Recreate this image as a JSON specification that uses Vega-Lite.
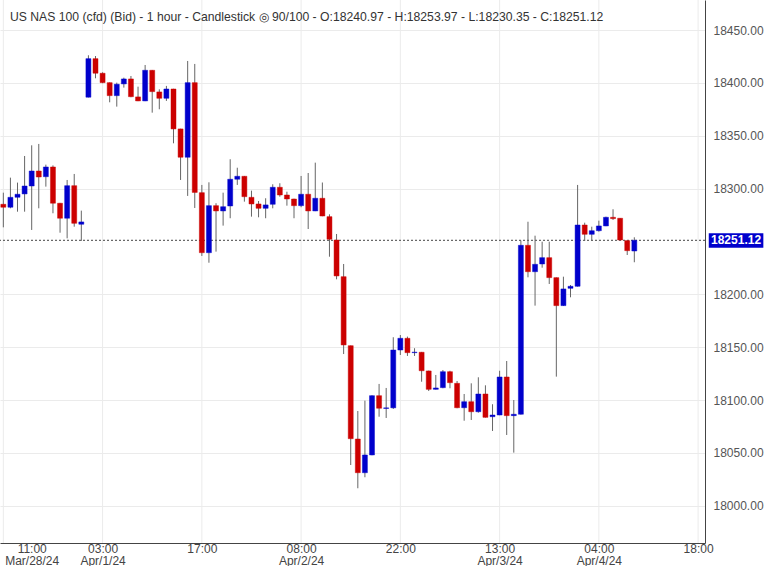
{
  "$schema": "https://vega.github.io/schema/vega-lite/v6.json",
  "autosize": {"type": "none"},
  "padding": {"left": 0, "top": 0, "right": 63, "bottom": 23},
  "width": 705,
  "height": 543,
  "background": "white",
  "title": {
    "text": "US NAS 100 (cfd) (Bid) - 1 hour - Candlestick  ◎  90/100 - O:18240.97 - H:18253.97 - L:18230.35 - C:18251.12",
    "anchor": "start",
    "frame": "group",
    "orient": "top",
    "baseline": "alphabetic",
    "offset": -34,
    "dx": 10,
    "font": "Liberation Sans",
    "fontSize": 12.2,
    "fontWeight": "normal",
    "color": "#333333"
  },
  "config": {
    "font": "Liberation Sans",
    "view": {"stroke": null}
  },
  "datasets": {
    "candles": [
      {"i":0,"o":18285.2,"h":18296.2,"l":18263.4,"c":18282.4},
      {"i":1,"o":18282.4,"h":18310.4,"l":18281.4,"c":18291.8},
      {"i":2,"o":18291.8,"h":18305.7,"l":18278.2,"c":18294.7},
      {"i":3,"o":18295.0,"h":18330.9,"l":18278.2,"c":18302.5},
      {"i":4,"o":18302.5,"h":18341.0,"l":18260.9,"c":18316.7},
      {"i":5,"o":18316.7,"h":18342.3,"l":18281.4,"c":18311.0},
      {"i":6,"o":18311.3,"h":18322.7,"l":18301.9,"c":18320.5},
      {"i":7,"o":18320.5,"h":18322.0,"l":18276.7,"c":18286.2},
      {"i":8,"o":18286.2,"h":18286.5,"l":18258.3,"c":18272.0},
      {"i":9,"o":18272.0,"h":18308.2,"l":18253.0,"c":18302.8},
      {"i":10,"o":18302.8,"h":18313.9,"l":18264.0,"c":18267.2},
      {"i":11,"o":18266.3,"h":18279.2,"l":18250.5,"c":18268.5},
      {"i":12,"o":18386.5,"h":18426.2,"l":18386.3,"c":18423.0},
      {"i":13,"o":18423.0,"h":18425.5,"l":18404.4,"c":18409.2},
      {"i":14,"o":18409.2,"h":18410.1,"l":18399.7,"c":18400.3},
      {"i":15,"o":18400.3,"h":18400.5,"l":18381.7,"c":18388.0},
      {"i":16,"o":18388.0,"h":18400.3,"l":18377.6,"c":18398.8},
      {"i":17,"o":18399.1,"h":18405.0,"l":18395.6,"c":18403.8},
      {"i":18,"o":18403.8,"h":18406.6,"l":18386.5,"c":18387.0},
      {"i":19,"o":18386.8,"h":18396.5,"l":18382.8,"c":18383.0},
      {"i":20,"o":18383.0,"h":18417.0,"l":18382.8,"c":18412.0},
      {"i":21,"o":18412.0,"h":18412.3,"l":18371.9,"c":18391.8},
      {"i":22,"o":18391.5,"h":18394.0,"l":18375.1,"c":18385.5},
      {"i":23,"o":18385.5,"h":18397.2,"l":18383.0,"c":18394.3},
      {"i":24,"o":18394.3,"h":18394.5,"l":18342.9,"c":18356.5},
      {"i":25,"o":18356.5,"h":18356.7,"l":18308.2,"c":18329.7},
      {"i":26,"o":18329.7,"h":18420.8,"l":18293.1,"c":18400.3},
      {"i":27,"o":18400.3,"h":18418.0,"l":18281.7,"c":18296.4},
      {"i":28,"o":18296.2,"h":18303.5,"l":18236.3,"c":18239.4},
      {"i":29,"o":18239.4,"h":18306.0,"l":18229.9,"c":18283.9},
      {"i":30,"o":18283.9,"h":18286.2,"l":18240.4,"c":18278.9},
      {"i":31,"o":18278.9,"h":18296.2,"l":18265.0,"c":18282.9},
      {"i":32,"o":18283.6,"h":18327.8,"l":18272.0,"c":18308.9},
      {"i":33,"o":18308.9,"h":18319.8,"l":18303.5,"c":18311.7},
      {"i":34,"o":18311.7,"h":18312.0,"l":18287.7,"c":18292.4},
      {"i":35,"o":18291.8,"h":18298.1,"l":18273.5,"c":18285.5},
      {"i":36,"o":18285.5,"h":18288.3,"l":18272.9,"c":18281.4},
      {"i":37,"o":18281.4,"h":18290.9,"l":18272.0,"c":18284.6},
      {"i":38,"o":18285.2,"h":18304.1,"l":18281.4,"c":18301.3},
      {"i":39,"o":18301.3,"h":18305.1,"l":18292.4,"c":18294.0},
      {"i":40,"o":18294.0,"h":18297.1,"l":18283.9,"c":18290.2},
      {"i":41,"o":18290.2,"h":18290.5,"l":18272.0,"c":18283.9},
      {"i":42,"o":18283.9,"h":18312.0,"l":18282.4,"c":18294.7},
      {"i":43,"o":18294.7,"h":18314.8,"l":18261.8,"c":18278.9},
      {"i":44,"o":18278.9,"h":18324.6,"l":18278.7,"c":18290.9},
      {"i":45,"o":18290.9,"h":18305.8,"l":18273.9,"c":18274.1},
      {"i":46,"o":18273.5,"h":18275.7,"l":18235.6,"c":18252.1},
      {"i":47,"o":18251.4,"h":18257.1,"l":18214.2,"c":18217.4},
      {"i":48,"o":18216.7,"h":18228.7,"l":18143.5,"c":18152.1},
      {"i":49,"o":18151.4,"h":18151.6,"l":18038.5,"c":18063.4},
      {"i":50,"o":18063.1,"h":18089.6,"l":18016.5,"c":18031.2},
      {"i":51,"o":18031.2,"h":18099.4,"l":18026.9,"c":18048.0},
      {"i":52,"o":18048.0,"h":18104.5,"l":18047.7,"c":18104.1},
      {"i":53,"o":18104.1,"h":18115.2,"l":18084.2,"c":18092.2},
      {"i":54,"o":18092.0,"h":18111.4,"l":18083.0,"c":18092.6},
      {"i":55,"o":18092.6,"h":18159.4,"l":18091.5,"c":18147.3},
      {"i":56,"o":18147.3,"h":18161.5,"l":18142.6,"c":18158.4},
      {"i":57,"o":18158.4,"h":18160.0,"l":18141.7,"c":18144.8},
      {"i":58,"o":18144.8,"h":18149.0,"l":18141.7,"c":18145.3},
      {"i":59,"o":18145.2,"h":18145.5,"l":18117.3,"c":18127.7},
      {"i":60,"o":18127.5,"h":18127.8,"l":18108.5,"c":18110.1},
      {"i":61,"o":18110.1,"h":18123.7,"l":18109.9,"c":18111.4},
      {"i":62,"o":18111.7,"h":18128.4,"l":18111.1,"c":18126.8},
      {"i":63,"o":18126.8,"h":18127.7,"l":18111.1,"c":18116.4},
      {"i":64,"o":18115.8,"h":18118.0,"l":18092.2,"c":18092.7},
      {"i":65,"o":18092.7,"h":18105.7,"l":18080.4,"c":18098.4},
      {"i":66,"o":18098.4,"h":18115.8,"l":18081.1,"c":18088.9},
      {"i":67,"o":18088.9,"h":18121.5,"l":18088.0,"c":18105.7},
      {"i":68,"o":18105.7,"h":18113.9,"l":18083.4,"c":18083.6},
      {"i":69,"o":18084.2,"h":18096.0,"l":18070.7,"c":18085.8},
      {"i":70,"o":18085.8,"h":18127.7,"l":18085.6,"c":18121.8},
      {"i":71,"o":18121.8,"h":18136.9,"l":18066.9,"c":18085.2},
      {"i":72,"o":18085.2,"h":18100.0,"l":18050.2,"c":18086.5},
      {"i":73,"o":18086.5,"h":18250.8,"l":18086.2,"c":18246.4},
      {"i":74,"o":18246.4,"h":18268.7,"l":18216.1,"c":18221.4},
      {"i":75,"o":18221.4,"h":18255.5,"l":18189.3,"c":18228.4},
      {"i":76,"o":18228.7,"h":18249.8,"l":18225.2,"c":18234.7},
      {"i":77,"o":18234.7,"h":18249.8,"l":18209.8,"c":18215.8},
      {"i":78,"o":18215.8,"h":18216.0,"l":18122.1,"c":18189.3},
      {"i":79,"o":18189.3,"h":18216.7,"l":18189.0,"c":18205.1},
      {"i":80,"o":18205.7,"h":18208.8,"l":18197.2,"c":18207.6},
      {"i":81,"o":18207.6,"h":18303.5,"l":18207.3,"c":18265.6},
      {"i":82,"o":18265.6,"h":18267.8,"l":18250.5,"c":18256.8},
      {"i":83,"o":18256.8,"h":18264.0,"l":18250.5,"c":18260.2},
      {"i":84,"o":18260.2,"h":18269.7,"l":18259.3,"c":18264.7},
      {"i":85,"o":18264.7,"h":18273.5,"l":18264.5,"c":18272.9},
      {"i":86,"o":18272.9,"h":18280.5,"l":18270.4,"c":18271.6},
      {"i":87,"o":18272.0,"h":18272.2,"l":18250.8,"c":18251.4},
      {"i":88,"o":18250.8,"h":18251.0,"l":18237.2,"c":18241.3},
      {"i":89,"o":18240.97,"h":18253.97,"l":18230.35,"c":18251.12}
    ],
    "grid": [{"g":0},{"g":14},{"g":28},{"g":42},{"g":56},{"g":70},{"g":84},{"g":98}],
    "last": [{"p":18251.12,"label":"18251.12","x0":99.5,"x1":107.2,"xm":103.35,"top":18257.7,"bot":18244.0}]
  },
  "layer": [
    {
      "data": {"name": "grid"},
      "mark": {"type": "rule", "color": "#ebebeb", "strokeWidth": 1},
      "encoding": {
        "x": {
          "field": "g", "type": "quantitative", "title": null,
          "scale": {"domain": [-0.47, 98.97], "nice": false, "zero": false, "padding": 0},
          "axis": {
            "title": null,
            "orient": "bottom",
            "values": [4, 14, 28, 42, 56, 70, 84, 98],
            "labelExpr": "datum.value == 4 ? ['11:00', 'Mar/28/24'] : datum.value == 14 ? ['03:00', 'Apr/1/24'] : datum.value == 28 ? '17:00' : datum.value == 42 ? ['08:00', 'Apr/2/24'] : datum.value == 56 ? '22:00' : datum.value == 70 ? ['13:00', 'Apr/3/24'] : datum.value == 84 ? ['04:00', 'Apr/4/24'] : '18:00'",
            "grid": false,
            "ticks": false,
            "labelPadding": 0,
            "labelFont": "Liberation Sans",
            "labelFontSize": 12,
            "labelColor": "#444444",
            "labelLineHeight": 12,
            "labelOverlap": false,
            "labelFlush": false,
            "labelBound": false,
            "domainColor": "#444444"
          }
        }
      }
    },
    {
      "data": {"name": "last"},
      "mark": {"type": "rule", "color": "#444444", "strokeWidth": 1, "strokeDash": [2, 2]},
      "encoding": {
        "y": {
          "field": "p", "type": "quantitative", "title": null,
          "scale": {"domain": [17964.7, 18478.5], "nice": false, "zero": false, "padding": 0},
          "axis": {
            "title": null,
            "orient": "right",
            "values": [18000, 18050, 18100, 18150, 18200, 18300, 18350, 18400, 18450],
            "format": ".2f",
            "grid": true,
            "gridColor": "#ebebeb",
            "ticks": false,
            "labelPadding": 8,
            "labelFont": "Liberation Sans",
            "labelFontSize": 12,
            "labelColor": "#555555",
            "labelOverlap": false,
            "labelFlush": false,
            "labelBound": false,
            "domainColor": "#444444"
          }
        }
      }
    },
    {
      "data": {"name": "candles"},
      "mark": {"type": "rule", "color": "#666666", "strokeWidth": 1},
      "encoding": {
        "x": {"field": "i", "type": "quantitative", "title": null},
        "y": {"field": "l", "type": "quantitative", "title": null},
        "y2": {"field": "h"}
      }
    },
    {
      "data": {"name": "candles"},
      "mark": {"type": "bar", "size": 5, "strokeWidth": 1, "strokeOpacity": 0.45},
      "encoding": {
        "x": {"field": "i", "type": "quantitative", "title": null},
        "y": {"field": "o", "type": "quantitative", "title": null},
        "y2": {"field": "c"},
        "color": {"condition": {"test": "datum.c >= datum.o", "value": "#0000cc"}, "value": "#cc0000"},
        "stroke": {"condition": {"test": "datum.c >= datum.o", "value": "#0000cc"}, "value": "#cc0000"}
      }
    },
    {
      "data": {"name": "last"},
      "mark": {"type": "rect", "color": "#0000cc", "clip": false},
      "encoding": {
        "x": {"field": "x0", "type": "quantitative", "title": null},
        "x2": {"field": "x1"},
        "y": {"field": "top", "type": "quantitative", "title": null},
        "y2": {"field": "bot"}
      }
    },
    {
      "data": {"name": "last"},
      "mark": {"type": "text", "color": "white", "font": "Liberation Sans", "fontSize": 12, "fontWeight": "bold", "align": "center", "baseline": "middle", "clip": false},
      "encoding": {
        "x": {"field": "xm", "type": "quantitative", "title": null},
        "y": {"field": "p", "type": "quantitative", "title": null},
        "text": {"field": "label"}
      }
    }
  ]
}
